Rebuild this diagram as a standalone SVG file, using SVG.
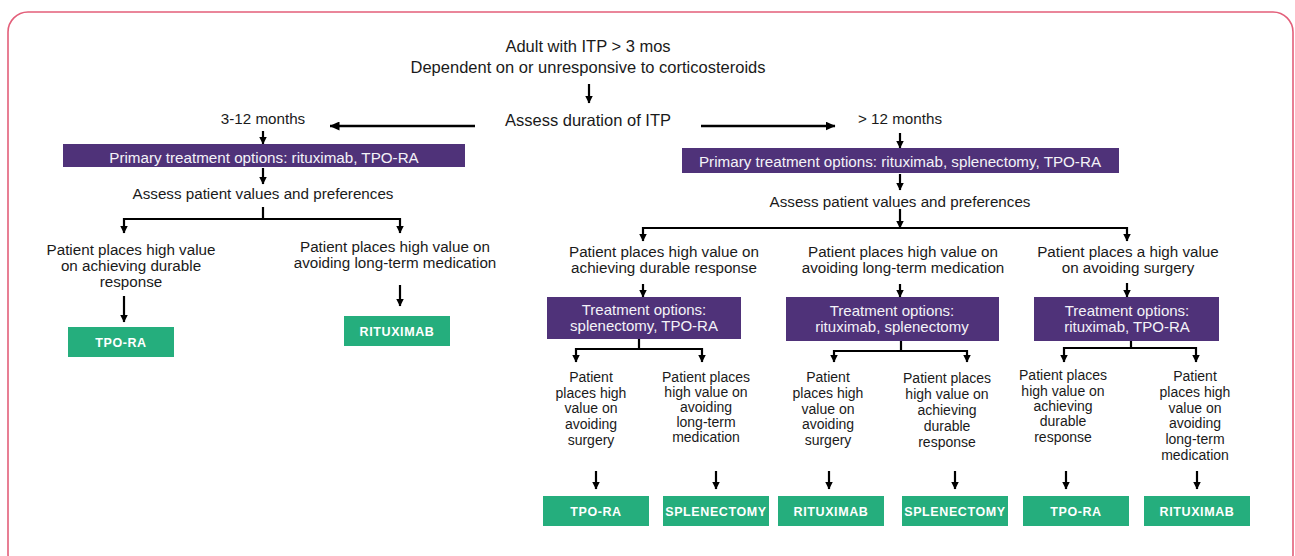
<svg xmlns="http://www.w3.org/2000/svg" width="1295" height="556" viewBox="0 0 1295 556">
<style>
.t{font-family:"Liberation Sans",Arial,Helvetica,sans-serif;font-size:15.2px;fill:#1a1a1a;text-anchor:middle}
.big{font-size:16.5px}
.lf{font-size:14px}
.w{fill:#f4f2f8}
.tb{font-size:15px}
.g{font-family:"Liberation Sans",Arial,sans-serif;font-weight:bold;font-size:12.5px;fill:#ffffff;text-anchor:middle;letter-spacing:0.6px}
.pb{fill:#4f3279}
.gb{fill:#25ae7d}
.c{fill:none;stroke:#000;stroke-width:2.2}
.ca{fill:none;stroke:#000;stroke-width:2.2;marker-end:url(#ah)}
.cm{fill:none;stroke:#000;stroke-width:2.6;marker-end:url(#ahb)}
</style>
<defs>
<marker id="ah" viewBox="0 0 8 8" refX="7.5" refY="4" markerWidth="8" markerHeight="8" markerUnits="userSpaceOnUse" orient="auto"><path d="M0,0 L8,4 L0,8 z" fill="#000"/></marker>
<marker id="ahb" viewBox="0 0 10 9" refX="9.5" refY="4.5" markerWidth="10" markerHeight="9" markerUnits="userSpaceOnUse" orient="auto"><path d="M0,0 L10,4.5 L0,9 z" fill="#000"/></marker>
</defs>
<rect x="8" y="12" width="1285" height="562" rx="20" ry="20" fill="#fff" stroke="#e35f7a" stroke-width="1.6"/>

<g id="connectors">
<path class="ca" d="M589,84 V103"/>
<path class="cm" d="M475,126 H330"/>
<path class="cm" d="M701,126 H835"/>
<path class="ca" d="M263,131 V144"/>
<path class="ca" d="M263,168 V184"/>
<path class="c" d="M263,207 V219 M124,219 H400"/>
<path class="ca" d="M124,218 V233"/>
<path class="ca" d="M400,218 V233"/>
<path class="ca" d="M124,296 V322"/>
<path class="ca" d="M400,285 V306"/>
<path class="ca" d="M900,133 V148"/>
<path class="ca" d="M900,174 V190"/>
<path class="ca" d="M900,209 V228"/>
<path class="c" d="M643,228 H1127"/>
<path class="ca" d="M643,227 V241"/>
<path class="ca" d="M1127,227 V241"/>
<path class="ca" d="M643,284 V297"/>
<path class="ca" d="M900,284 V297"/>
<path class="ca" d="M1127,283 V297"/>
<path class="c" d="M639,339 V349 M576,349 H702"/>
<path class="ca" d="M576,348 V362"/>
<path class="ca" d="M702,348 V362"/>
<path class="c" d="M901,341 V351 M834,351 H967"/>
<path class="ca" d="M834,350 V362"/>
<path class="ca" d="M967,350 V362"/>
<path class="c" d="M1131,341 V348 M1064,348 H1196"/>
<path class="ca" d="M1064,347 V362"/>
<path class="ca" d="M1196,347 V362"/>
<path class="ca" d="M596,471 V489"/>
<path class="ca" d="M716,471 V489"/>
<path class="ca" d="M829,471 V489"/>
<path class="ca" d="M955,471 V489"/>
<path class="ca" d="M1066,471 V489"/>
<path class="ca" d="M1197,471 V489"/>
</g>

<g id="start">
<text class="t big" x="588" y="52">Adult with ITP &gt; 3 mos</text>
<text class="t big" x="588" y="73">Dependent on or unresponsive to corticosteroids</text>
</g>
<g id="assess-duration"><text class="t big" x="588" y="126">Assess duration of ITP</text></g>

<g id="left-3-12"><text class="t" x="263" y="124">3-12 months</text></g>
<g id="left-primary">
<rect class="pb" x="63" y="144" width="402" height="23"/>
<text class="t w" x="264" y="163">Primary treatment options: rituximab, TPO-RA</text>
</g>
<g id="left-assess"><text class="t" x="263" y="199">Assess patient values and preferences</text></g>
<g id="left-durable">
<text class="t" x="131" y="255">Patient places high value</text>
<text class="t" x="131" y="271">on achieving durable</text>
<text class="t" x="131" y="287">response</text>
</g>
<g id="left-avoid-med">
<text class="t" x="395" y="252">Patient places high value on</text>
<text class="t" x="395" y="268">avoiding long-term medication</text>
</g>
<g id="left-tpo"><rect class="gb" x="68" y="327" width="106" height="30"/><text class="g" x="121" y="346.5">TPO-RA</text></g>
<g id="left-ritux"><rect class="gb" x="344" y="316" width="106" height="30"/><text class="g" x="397" y="335.5">RITUXIMAB</text></g>

<g id="right-12"><text class="t" x="900" y="124">&gt; 12 months</text></g>
<g id="right-primary">
<rect class="pb" x="682" y="148" width="437" height="25"/>
<text class="t w" x="900" y="167">Primary treatment options: rituximab, splenectomy, TPO-RA</text>
</g>
<g id="right-assess"><text class="t" x="900" y="207">Assess patient values and preferences</text></g>

<g id="r-durable">
<text class="t" x="664" y="257">Patient places high value on</text>
<text class="t" x="664" y="273">achieving durable response</text>
</g>
<g id="r-avoid-med">
<text class="t" x="903" y="257">Patient places high value on</text>
<text class="t" x="903" y="273">avoiding long-term medication</text>
</g>
<g id="r-avoid-surg">
<text class="t" x="1128" y="257">Patient places a high value</text>
<text class="t" x="1128" y="273">on avoiding surgery</text>
</g>

<g id="opt1"><rect class="pb" x="547" y="297" width="194" height="42"/>
<text class="t w tb" x="644" y="315">Treatment options:</text>
<text class="t w tb" x="644" y="331">splenectomy, TPO-RA</text></g>
<g id="opt2"><rect class="pb" x="786" y="297" width="213" height="44"/>
<text class="t w tb" x="892" y="316">Treatment options:</text>
<text class="t w tb" x="892" y="332">rituximab, splenectomy</text></g>
<g id="opt3"><rect class="pb" x="1034" y="297" width="185" height="44"/>
<text class="t w tb" x="1127" y="316">Treatment options:</text>
<text class="t w tb" x="1127" y="332">rituximab, TPO-RA</text></g>

<g id="leaf1">
<text class="t lf" x="591" y="382">Patient</text>
<text class="t lf" x="591" y="398">places high</text>
<text class="t lf" x="591" y="413">value on</text>
<text class="t lf" x="591" y="429">avoiding</text>
<text class="t lf" x="591" y="445">surgery</text>
</g>
<g id="leaf2">
<text class="t lf" x="706" y="382">Patient places</text>
<text class="t lf" x="706" y="397">high value on</text>
<text class="t lf" x="706" y="412">avoiding</text>
<text class="t lf" x="706" y="427">long-term</text>
<text class="t lf" x="706" y="442">medication</text>
</g>
<g id="leaf3">
<text class="t lf" x="828" y="382">Patient</text>
<text class="t lf" x="828" y="398">places high</text>
<text class="t lf" x="828" y="414">value on</text>
<text class="t lf" x="828" y="429">avoiding</text>
<text class="t lf" x="828" y="445">surgery</text>
</g>
<g id="leaf4">
<text class="t lf" x="947" y="383">Patient places</text>
<text class="t lf" x="947" y="399">high value on</text>
<text class="t lf" x="947" y="415">achieving</text>
<text class="t lf" x="947" y="431">durable</text>
<text class="t lf" x="947" y="447">response</text>
</g>
<g id="leaf5">
<text class="t lf" x="1063" y="380">Patient places</text>
<text class="t lf" x="1063" y="396">high value on</text>
<text class="t lf" x="1063" y="411">achieving</text>
<text class="t lf" x="1063" y="426">durable</text>
<text class="t lf" x="1063" y="442">response</text>
</g>
<g id="leaf6">
<text class="t lf" x="1195" y="381">Patient</text>
<text class="t lf" x="1195" y="397">places high</text>
<text class="t lf" x="1195" y="413">value on</text>
<text class="t lf" x="1195" y="428">avoiding</text>
<text class="t lf" x="1195" y="444">long-term</text>
<text class="t lf" x="1195" y="460">medication</text>
</g>

<g id="out1"><rect class="gb" x="543" y="496" width="106" height="30"/><text class="g" x="596" y="515.5">TPO-RA</text></g>
<g id="out2"><rect class="gb" x="663" y="496" width="106" height="30"/><text class="g" x="716" y="515.5">SPLENECTOMY</text></g>
<g id="out3"><rect class="gb" x="778" y="496" width="106" height="30"/><text class="g" x="831" y="515.5">RITUXIMAB</text></g>
<g id="out4"><rect class="gb" x="902" y="496" width="106" height="30"/><text class="g" x="955" y="515.5">SPLENECTOMY</text></g>
<g id="out5"><rect class="gb" x="1023" y="496" width="106" height="30"/><text class="g" x="1076" y="515.5">TPO-RA</text></g>
<g id="out6"><rect class="gb" x="1144" y="496" width="106" height="30"/><text class="g" x="1197" y="515.5">RITUXIMAB</text></g>
</svg>
